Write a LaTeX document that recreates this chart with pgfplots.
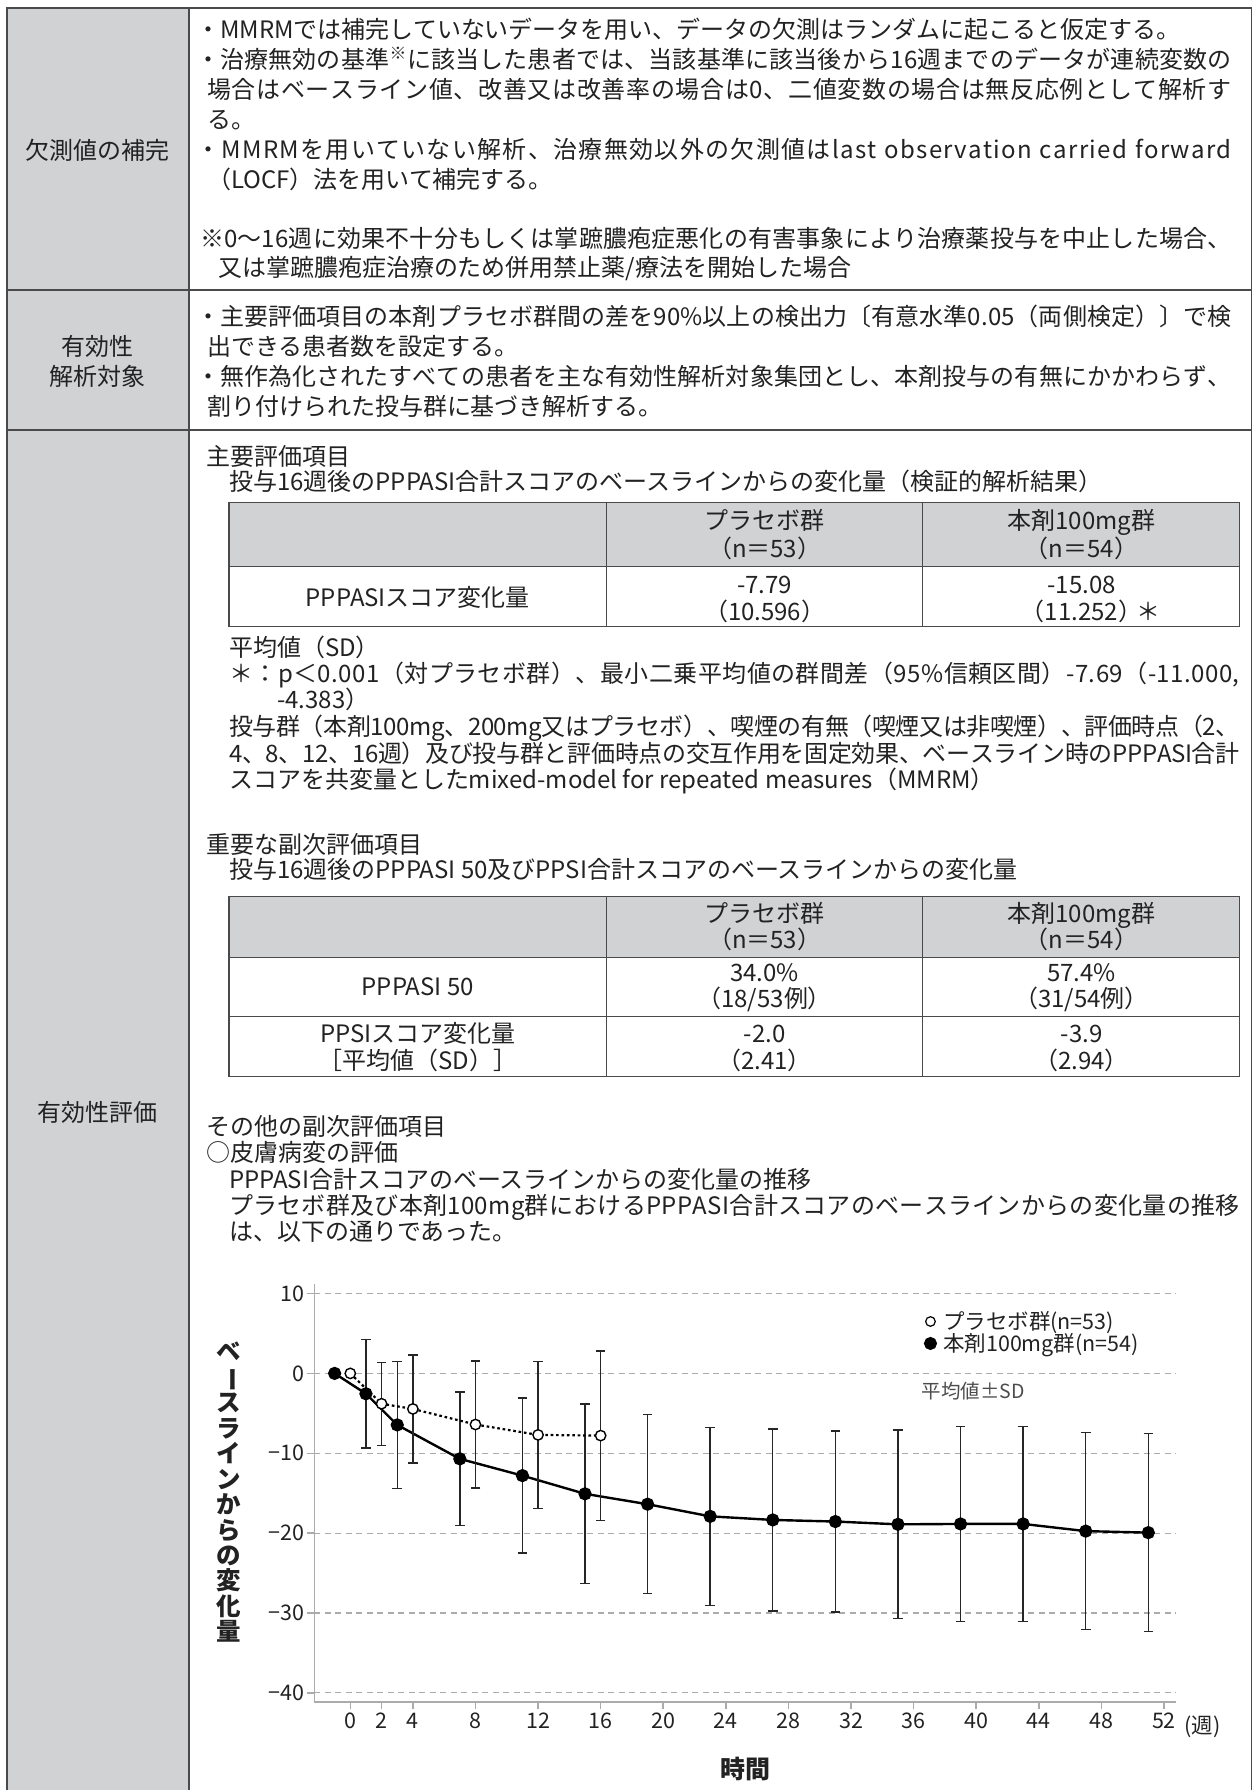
\documentclass[border=0pt]{standalone}
\usepackage{fontspec}
\setmainfont{Noto Sans CJK JP}
\usepackage{graphicx}
\usepackage{pgfplots}
\usepackage{pgfplotstable}
\pgfplotsset{compat=1.18}

\definecolor{cellgray}{HTML}{D1D2D4}
\definecolor{rule}{HTML}{4A4A4A}
\definecolor{ink}{HTML}{222222}
\definecolor{axgray}{HTML}{ABABAB}

\newcommand\bodyfont{\fontsize{24}{28}\selectfont}
\newcommand\kome{\textsuperscript{※}}
% spread the characters of a line over a given width (spaces written as "\ ")
\makeatletter
\def\spread@end{\spread@end}
\def\spread@#1{\ifx#1\spread@end\else#1\hskip 0pt plus 1fil minus 0.6pt\relax\expandafter\spread@\fi}
\newcommand\Spread[2]{\hbox to #1pt{\spread@#2\spread@end\unskip}}
\makeatother
% left-set line: x, y of the line's middle, text
\newcommand\Ln[3]{\node[anchor=base west,inner sep=0pt,text=ink,font=\bodyfont] at (#1,{-(#2)-9.1}) {#3};}
% justified line: x, y, width, text
\newcommand\Jn[4]{\node[anchor=base west,inner sep=0pt,text=ink,font=\bodyfont] at (#1,{-(#2)-9.1}) {\Spread{#3}{#4}};}
% centred line
\newcommand\Cn[3]{\node[anchor=base,inner sep=0pt,text=ink,font=\bodyfont] at (#1,{-(#2)-9.1}) {#3};}

% PPPASI change from baseline, mean and SD
\pgfplotstableread{
wk mean sd
0 0 0
2 -3.80 5.20
4 -4.45 6.75
8 -6.40 7.95
12 -7.70 9.20
16 -7.79 10.60
}\placebo
\pgfplotstableread{
wk mean sd
-1 0 0
1 -2.55 6.80
3 -6.45 7.95
7 -10.70 8.35
11 -12.80 9.70
15 -15.08 11.25
19 -16.38 11.20
23 -17.90 11.15
27 -18.35 11.40
31 -18.55 11.35
35 -18.90 11.80
39 -18.85 12.20
43 -18.85 12.20
47 -19.75 12.35
51 -19.94 12.40
}\drug

\begin{document}
\begin{tikzpicture}[x=1pt,y=1pt]
\path (0,0) rectangle (1255,-1791);

% frame of the form
\fill[cellgray] (7,-8) rectangle (189,-1791);
\draw[rule, line width=1.6pt] (7,-1791) -- (7,-8) -- (1252,-8) -- (1252,-1791);
\draw[rule, line width=1.4pt] (189,-8) -- (189,-1791);
\draw[rule, line width=1.6pt] (7,-290) -- (1252,-290);
\draw[rule, line width=1.6pt] (7,-430) -- (1252,-430);

\Cn{98}{150}{欠測値の補完}
\Cn{98}{347}{有効性}
\Cn{98}{377}{解析対象}
\Cn{98}{1113}{有効性評価}

% row 1
\Ln{196}{29}{・MMRMでは補完していないデータを用い、データの欠測はランダムに起こると仮定する。}
\Jn{196}{59}{1036}{・治療無効の基準\kome に該当した患者では、当該基準に該当後から16週までのデータが連続変数の}
\Jn{207}{89}{1025}{場合はベースライン値、改善又は改善率の場合は0、二値変数の場合は無反応例として解析す}
\Ln{207}{119}{る。}
\Jn{196}{149}{1036}{・MMRMを用いていない解析、治療無効以外の欠測値はlast\ observation\ carried\ forward}
\Ln{207}{179}{（LOCF）法を用いて補完する。}
\Jn{200}{239}{1032}{※0～16週に効果不十分もしくは掌蹠膿疱症悪化の有害事象により治療薬投与を中止した場合、}
\Ln{218}{268}{又は掌蹠膿疱症治療のため併用禁止薬/療法を開始した場合}

% row 2
\Jn{196}{317}{1036}{・主要評価項目の本剤プラセボ群間の差を90\%以上の検出力〔有意水準0.05（両側検定）〕で検}
\Ln{207}{347}{出できる患者数を設定する。}
\Jn{196}{377}{1036}{・無作為化されたすべての患者を主な有効性解析対象集団とし、本剤投与の有無にかかわらず、}
\Ln{207}{407}{割り付けられた投与群に基づき解析する。}

% row 3
\Ln{206}{457}{主要評価項目}
\Ln{229}{482}{投与16週後のPPPASI合計スコアのベースラインからの変化量（検証的解析結果）}

\fill[cellgray] (229,-503) rectangle (1240,-567);
\draw[rule, line width=1.3pt] (229,-503) rectangle (1240,-627);
\draw[rule, line width=1.3pt] (229,-567) -- (1240,-567) (607,-503) -- (607,-627) (923,-503) -- (923,-627);
\Cn{765}{521}{プラセボ群}
\Cn{765}{549}{（n＝53）}
\Cn{1082}{521}{本剤100mg群}
\Cn{1082}{549}{（n＝54）}
\Cn{418}{598}{PPPASIスコア変化量}
\Cn{765}{585}{-7.79}
\Cn{765}{612}{（10.596）}
\Cn{1082}{585}{-15.08}
\Cn{1082}{612}{（11.252）\rlap{\hspace{-6pt}＊}}

\Ln{229}{648}{平均値（SD）}
\Jn{229}{674}{1011}{＊：p＜0.001（対プラセボ群）、最小二乗平均値の群間差（95\%信頼区間）-7.69（-11.000,}
\Ln{277}{700}{-4.383）}
\Jn{229}{727}{1011}{投与群（本剤100mg、200mg又はプラセボ）、喫煙の有無（喫煙又は非喫煙）、評価時点（2、}
\Jn{229}{754}{1011}{4、8、12、16週）及び投与群と評価時点の交互作用を固定効果、ベースライン時のPPPASI合計}
\Ln{229}{780}{スコアを共変量としたmixed-model for repeated measures（MMRM）}

\Ln{206}{845}{重要な副次評価項目}
\Ln{229}{870}{投与16週後のPPPASI 50及びPPSI合計スコアのベースラインからの変化量}

\fill[cellgray] (229,-897) rectangle (1240,-958);
\draw[rule, line width=1.3pt] (229,-897) rectangle (1240,-1077);
\draw[rule, line width=1.3pt] (229,-958) -- (1240,-958) (229,-1017) -- (1240,-1017)
  (607,-897) -- (607,-1077) (923,-897) -- (923,-1077);
\Cn{765}{914}{プラセボ群}
\Cn{765}{940}{（n＝53）}
\Cn{1082}{914}{本剤100mg群}
\Cn{1082}{940}{（n＝54）}
\Cn{418}{987}{PPPASI 50}
\Cn{765}{973}{34.0\%}
\Cn{765}{999}{（18/53例）}
\Cn{1082}{973}{57.4\%}
\Cn{1082}{999}{（31/54例）}
\Cn{418}{1034}{PPSIスコア変化量}
\Cn{418}{1061}{［平均値（SD）］}
\Cn{765}{1034}{-2.0}
\Cn{765}{1061}{（2.41）}
\Cn{1082}{1034}{-3.9}
\Cn{1082}{1061}{（2.94）}

\Ln{206}{1127}{その他の副次評価項目}
\Ln{206}{1153}{○皮膚病変の評価}
\Ln{229}{1180}{PPPASI合計スコアのベースラインからの変化量の推移}
\Jn{229}{1206}{1011}{プラセボ群及び本剤100mg群におけるPPPASI合計スコアのベースラインからの変化量の推移}
\Ln{229}{1232}{は、以下の通りであった。}

% chart
\begin{axis}[
  at={(314.6pt,-1703pt)}, anchor=south west,
  scale only axis, width=862.4pt, height=418pt,
  xmin=-2.29, xmax=52.8, ymin=-41.18, ymax=11.14,
  axis x line*=bottom, axis y line*=left,
  axis line style={axgray, line width=1.8pt},
  xtick={0,2,4,8,12,16,20,24,28,32,36,40,44,48,52},
  xticklabels={0,2,4,8,12,16,20,24,28,32,36,40,44,48,52},
  ytick={-40,-30,-20,-10,0,10},
  yticklabels={−40,−30,−20,−10,0,10},
  tick align=outside, major tick length=7pt,
  major tick style={axgray, line width=1.5pt},
  ymajorgrids,
  major grid style={axgray, line width=1.2pt, dash pattern=on 6pt off 4.5pt},
  ticklabel style={font=\fontsize{21.5}{22}\selectfont, text=ink},
  legend style={at={(axis cs:36.65,7.9)}, anchor=north west, draw=none, fill=none,
    font=\fontsize{21.5}{22}\selectfont, text=ink, inner sep=0pt,
    nodes={inner sep=1.2pt}, row sep=0pt,
    /tikz/every odd column/.append style={column sep=5pt}},
  legend cell align=left,
  reverse legend,
  clip=false,
]
\addplot[black, line width=2.4pt, mark=*, mark size=5.4pt,
  mark options={solid, fill=black},
  legend image code/.code={\fill[black] (5pt,0pt) circle (5.3pt);},
  error bars/.cd, y dir=both, y explicit,
  error bar style={black!85, line width=1.4pt, solid},
  error mark options={rotate=90, black!85, line width=1.4pt, mark size=4.8pt, solid}]
  table[x=wk, y=mean, y error=sd] {\drug};
\addlegendentry{本剤100mg群(n=54)}
\addplot[black, line width=2.2pt, dash pattern=on 2.6pt off 2.8pt, mark=*, mark size=5.2pt,
  mark options={solid, fill=white, draw=black, line width=1.4pt},
  legend image code/.code={\draw[solid, black, line width=1.2pt, fill=white] (5pt,0pt) circle (4.8pt);},
  error bars/.cd, y dir=both, y explicit,
  error bar style={black!85, line width=1.4pt, solid},
  error mark options={rotate=90, black!85, line width=1.4pt, mark size=4.8pt, solid}]
  table[x=wk, y=mean, y error=sd] {\placebo};
\addlegendentry{プラセボ群(n=53)}
\end{axis}

\node[anchor=west, inner sep=0pt, font=\fontsize{19.5}{20}\selectfont, text=black!70] at (922,-1392) {平均値±SD};
\node[inner sep=0pt, font=\fontsize{21.5}{22}\selectfont, text=ink] at (1203,-1728) {(週)};
\node[inner sep=0pt, font=\fontsize{25}{26}\selectfont\bfseries, text=ink] at (746,-1770) {時間};
\node[inner sep=0pt, align=center, font=\fontsize{24.5}{25.5}\selectfont\bfseries, text=ink] at (229,-1493)
  {ベ\\\rotatebox[origin=c]{-90}{ー}\\ス\\ラ\\イ\\ン\\か\\ら\\の\\変\\化\\量};
\end{tikzpicture}
\end{document}
